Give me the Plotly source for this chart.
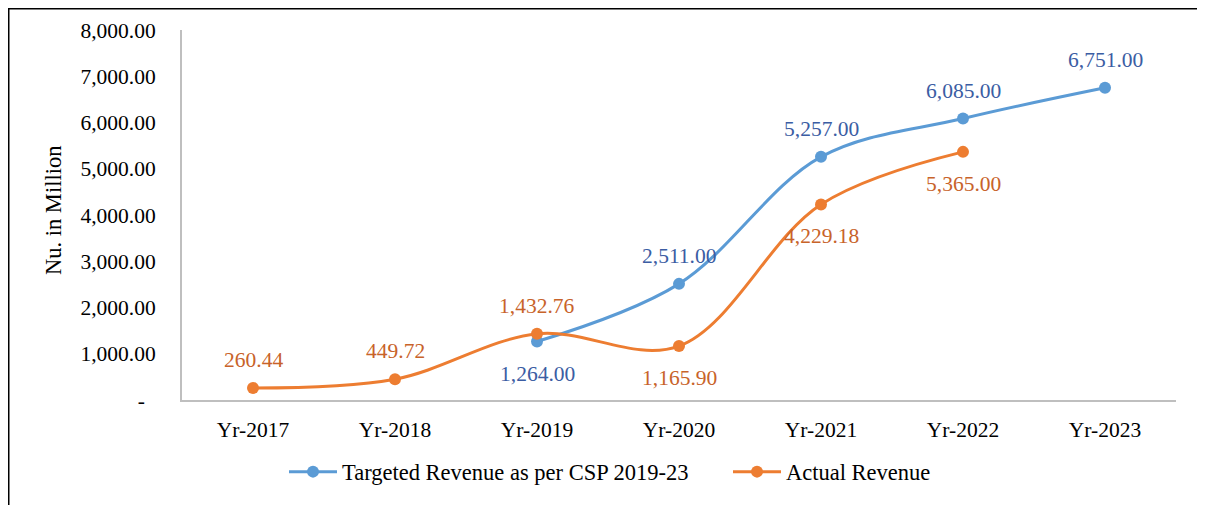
import plotly.graph_objects as go

years = ["Yr-2017", "Yr-2018", "Yr-2019", "Yr-2020", "Yr-2021", "Yr-2022", "Yr-2023"]
target_years = ["Yr-2019", "Yr-2020", "Yr-2021", "Yr-2022", "Yr-2023"]
target_vals = [1264.00, 2511.00, 5257.00, 6085.00, 6751.00]
target_pos = ["below", "above", "above", "above", "above"]
actual_years = ["Yr-2017", "Yr-2018", "Yr-2019", "Yr-2020", "Yr-2021", "Yr-2022"]
actual_vals = [260.44, 449.72, 1432.76, 1165.90, 4229.18, 5365.00]
actual_pos = ["above", "above", "above", "below", "below", "below"]
y_ticks = [0, 1000, 2000, 3000, 4000, 5000, 6000, 7000, 8000]
y_ticktext = ["-\u00a0\u00a0" if v == 0 else f"{v:,.2f}" for v in y_ticks]

FONT = "Liberation Serif"
BLUE, ORANGE = "#5B9BD5", "#ED7D31"
BLUE_TXT, ORANGE_TXT = "#3B5DA3", "#C8632A"

# page has an 8px body margin; figure sized to fit the window
W, H = 1197, 497
L, T, PW, PH = 174, 22, 994, 370

fig = go.Figure()
fig.add_trace(go.Scatter(x=target_years, y=target_vals, mode="lines+markers",
                         name="Targeted Revenue as per CSP 2019-23",
                         line=dict(color=BLUE, width=3, shape="spline", smoothing=1),
                         marker=dict(color=BLUE, size=12)))
fig.add_trace(go.Scatter(x=actual_years, y=actual_vals, mode="lines+markers",
                         name="Actual Revenue",
                         line=dict(color=ORANGE, width=3, shape="spline", smoothing=1),
                         marker=dict(color=ORANGE, size=12)))

anns = []
for xs, vs, ps, col in [(target_years, target_vals, target_pos, BLUE_TXT),
                        (actual_years, actual_vals, actual_pos, ORANGE_TXT)]:
    for x, v, p in zip(xs, vs, ps):
        anns.append(dict(x=x, y=v, xref="x", yref="y", text=f"{v:,.2f}", showarrow=False,
                         yshift=28 if p == "above" else -32,
                         font=dict(family=FONT, size=21.5, color=col)))
anns.append(dict(x=(53 - 182) / PW, y=(400 - 211) / PH, xref="paper", yref="paper",
                 xanchor="center", yanchor="middle",
                 text="Nu. in Million", textangle=-90, showarrow=False,
                 font=dict(family=FONT, size=22.5, color="black")))

fig.update_layout(
    width=W, height=H,
    margin=dict(l=L, r=W - L - PW, t=T, b=H - T - PH),
    paper_bgcolor="white", plot_bgcolor="white",
    font=dict(family=FONT, size=21.5, color="black"),
    showlegend=True,
    legend=dict(orientation="h", x=(284 - 182) / PW, xanchor="left",
                y=(400 - 472) / PH, yanchor="middle",
                font=dict(family=FONT, size=22.5, color="black"), itemwidth=48,
                entrywidth=381, traceorder="normal"),
    annotations=anns,
    shapes=[dict(type="rect", xref="paper", yref="paper",
                 x0=(0.75 - L) / PW, x1=(1191.5 - L) / PW,
                 y0=(T + PH - 510) / PH, y1=(T + PH - 0.75) / PH,
                 line=dict(color="black", width=1.5), fillcolor="rgba(0,0,0,0)", layer="below")],
)
fig.update_xaxes(type="category", categoryorder="array", categoryarray=years,
                 range=[-0.5, 6.5], showline=True, linecolor="#BFBFBF", linewidth=2,
                 showgrid=False, zeroline=False, ticks="", ticklabelstandoff=9,
                 tickfont=dict(family=FONT, size=21.5, color="black"))
fig.update_yaxes(range=[0, 8000], tickvals=y_ticks, ticktext=y_ticktext,
                 showline=True, linecolor="#BFBFBF", linewidth=2,
                 showgrid=False, zeroline=False, ticks="", ticklabelstandoff=20,
                 tickfont=dict(family=FONT, size=21.5, color="black"))

fig.write_html("out.html")
